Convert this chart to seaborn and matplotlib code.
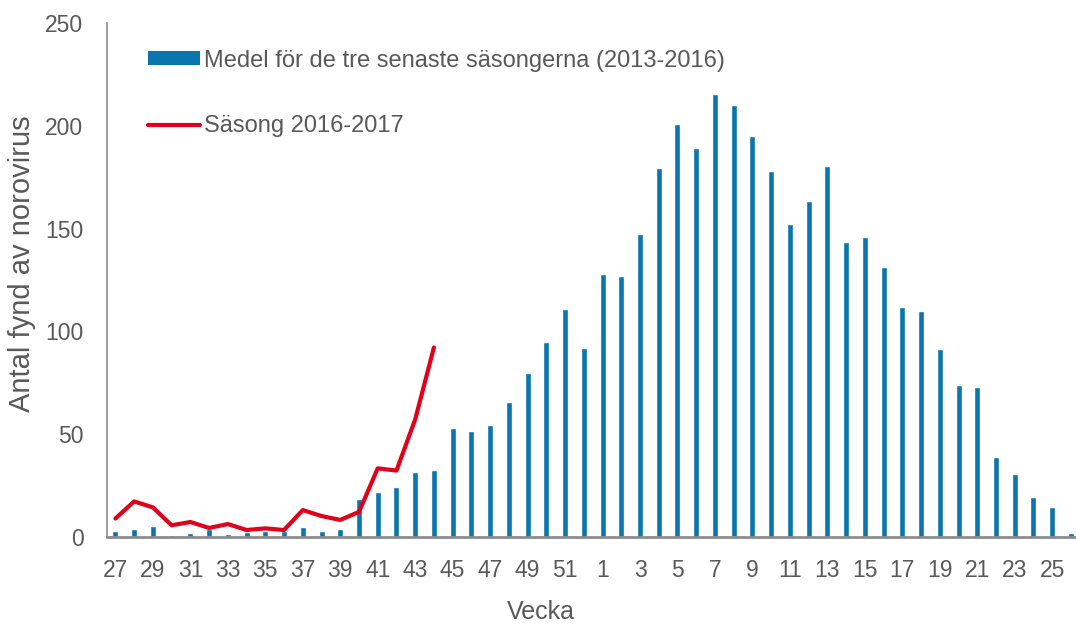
import matplotlib
matplotlib.use("Agg")
import matplotlib.pyplot as plt
from matplotlib.patches import Patch
from matplotlib.lines import Line2D
import seaborn as sns
import pandas as pd
import numpy as np

sns.set_theme(style="white")
plt.rcParams["font.family"] = ["Liberation Sans", "DejaVu Sans"]

# ── Data ──────────────────────────────────────────────────────────────────────
weeks = [str(w) for w in list(range(27, 53)) + list(range(1, 27))]

medel_2013_2016 = [3, 4, 5.5, 1, 2, 4, 1.5, 2.5, 3, 3,
                   5, 3, 4, 18.5, 22, 24.5, 31.5, 32.7, 52.8, 51.4,
                   54.3, 65.7, 79.6, 94.7, 111, 91.8, 127.8, 127, 147.2, 179.3,
                   201, 189.4, 215.3, 210, 195, 178, 152.1, 163.4, 180.4, 143.3,
                   146.1, 131.3, 111.7, 109.8, 91.4, 73.8, 72.8, 39, 30.6, 19.3,
                   14.6, 2.1]

sasong_2016_2017 = [9, 17.3, 14.4, 5.7, 7.3, 4.4, 6.3, 3.4, 4.2, 3.4,
                    13.1, 10.2, 8.3, 12.2, 33.4, 32.3, 57.2, 92.2]

label_bars = "Medel för de tre senaste säsongerna (2013-2016)"
label_line = "Säsong 2016-2017"

BLUE = "#0A76AD"
RED = "#E2001A"
TEXT = "#595959"
AXIS = "#8C8C8C"

df = pd.DataFrame({"vecka": weeks, "medel": medel_2013_2016})
df_line = pd.DataFrame({"pos": np.arange(len(sasong_2016_2017)),
                        "antal": sasong_2016_2017})

# ── Plot ──────────────────────────────────────────────────────────────────────
fig = plt.figure(figsize=(10.76, 6.26), dpi=100)
ax = fig.add_axes([107 / 1076, 1 - 537 / 626, 969 / 1076, 514 / 626])

sns.barplot(data=df, x="vecka", y="medel", order=weeks, color=BLUE,
            width=0.32, saturation=1, ax=ax)
sns.lineplot(data=df_line, x="pos", y="antal", color=RED, linewidth=3,
             ax=ax)

ax.set_xlim(-0.45, 51.27)
ax.set_ylim(0, 250)
ax.set_yticks(range(0, 251, 50))
ax.set_xticks(range(0, len(weeks), 2))
ax.set_xticklabels(weeks[::2])

ax.tick_params(axis="both", length=0, labelsize=16.5, colors=TEXT)
ax.tick_params(axis="x", pad=16)
ax.tick_params(axis="y", pad=17)

ax.set_xlabel("Vecka", fontsize=18, color=TEXT)
ax.set_ylabel("Antal fynd av norovirus", fontsize=21, color=TEXT)
# label positions as in the original (not centred on the axes)
ax.xaxis.set_label_coords((541 - 107) / 969, -(612 - 537) / 514)
ax.yaxis.set_label_coords(-(107 - 22) / 969, (537 - 264) / 514)
ax.xaxis.label.set_va("center")
ax.yaxis.label.set_va("center")

sns.despine(ax=ax)
ax.spines["left"].set_color(AXIS)
ax.spines["left"].set_linewidth(1.2)
ax.spines["bottom"].set_color(AXIS)
ax.spines["bottom"].set_linewidth(2)

handles = [Patch(facecolor=BLUE, edgecolor="none", label=label_bars),
           Line2D([0], [0], color=RED, linewidth=3, label=label_line)]
leg = ax.legend(handles=handles, loc="upper left", bbox_to_anchor=(0.042, 0.948),
                frameon=False, fontsize=17, handlelength=2.2, handleheight=0.55,
                handletextpad=0.2, labelspacing=1.85, borderpad=0, borderaxespad=0)
for t in leg.get_texts():
    t.set_color(TEXT)

fig.savefig("out.png", dpi=100)
